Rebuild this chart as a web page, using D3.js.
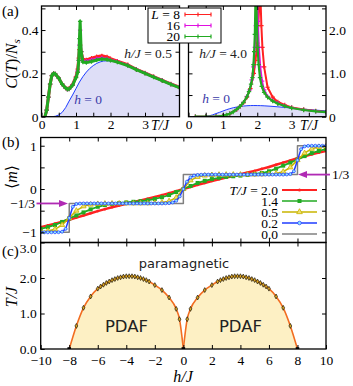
<!DOCTYPE html>
<html>
<head>
<meta charset="utf-8">
<script src="https://cdn.jsdelivr.net/npm/d3@7"></script>
<style>
body { margin: 0; background: #fff; }
svg { display: block; }
</style>
</head>
<body>
<div id="chart"></div>
<script>
// (a) specific heat, h/J = 0.5
var tA = [0.1,0.15,0.2,0.25,0.3,0.35,0.4,0.5,0.6,0.7,0.75,0.8,0.9,1.0,1.05,1.08,1.1,1.12,1.15,1.2,1.3,1.45,1.6,1.75,1.9,2.0,2.2,2.5,2.75,3.0,3.25,3.5,3.75,4.0]
var cA8 = [0,0.03,0.09,0.15,0.19,0.2,0.197,0.178,0.15,0.132,0.128,0.13,0.148,0.185,0.22,0.27,0.31,0.33,0.3,0.265,0.262,0.27,0.277,0.281,0.276,0.268,0.256,0.24,0.219,0.202,0.185,0.168,0.151,0.136]
var cA16 = [0,0.03,0.09,0.15,0.19,0.2,0.197,0.178,0.15,0.132,0.127,0.128,0.146,0.182,0.21,0.26,0.33,0.4,0.3,0.258,0.256,0.262,0.268,0.271,0.267,0.262,0.254,0.237,0.218,0.201,0.184,0.167,0.15,0.135]
var cA20 = [0,0.03,0.09,0.15,0.19,0.2,0.197,0.178,0.15,0.132,0.127,0.128,0.145,0.18,0.205,0.26,0.36,0.44,0.3,0.252,0.25,0.255,0.262,0.266,0.264,0.26,0.252,0.236,0.217,0.2,0.183,0.166,0.149,0.134]

// h = 0 reference curve
var t0 = [0.2,0.3,0.4,0.5,0.6,0.7,0.8,0.9,1.0,1.1,1.2,1.3,1.4,1.5,1.6,1.7,1.8,1.9,2.0,2.1,2.2,2.4,2.6,2.8,3.0,3.2,3.4,3.6,3.8,4.0]
var c0 = [0,0,0.002,0.008,0.02,0.042,0.072,0.1,0.13,0.16,0.185,0.206,0.223,0.236,0.246,0.253,0.257,0.258,0.257,0.255,0.251,0.241,0.228,0.214,0.2,0.186,0.172,0.159,0.146,0.134]

// (a) specific heat, h/J = 4.0
var tB8 = [0.2,0.5,0.8,1.0,1.2,1.4,1.5,1.6,1.7,1.8,1.9,1.95,2.0,2.03,2.06,2.08,2.1,2.12,2.15,2.2,2.3,2.45,2.6,2.8,3.0,3.35,3.7,4.0]
var cB8 = [0,0,0.005,0.02,0.07,0.165,0.235,0.32,0.45,0.65,1.0,1.3,1.7,2.1,2.6,2.8,2.6,2.1,1.6,1.15,0.68,0.45,0.34,0.27,0.215,0.165,0.13,0.108]
var tB16 = [0.2,0.5,0.8,1.0,1.2,1.4,1.5,1.6,1.7,1.78,1.84,1.89,1.93,1.96,1.98,2.0,2.02,2.05,2.09,2.14,2.2,2.3,2.45,2.6,2.8,3.0,3.35,3.7,4.0]
var cB16 = [0,0,0.005,0.02,0.07,0.17,0.24,0.33,0.47,0.62,0.85,1.15,1.6,2.1,2.8,2.8,2.2,1.6,1.15,0.82,0.62,0.47,0.37,0.31,0.25,0.205,0.158,0.127,0.106]
var tB20 = [0.2,0.5,0.8,1.0,1.1,1.2,1.3,1.4,1.5,1.6,1.7,1.76,1.82,1.86,1.89,1.91,1.93,1.95,1.97,1.99,2.01,2.04,2.08,2.13,2.2,2.3,2.45,2.6,2.8,3.0,3.35,3.7,4.0]
var cB20 = [0,0,0.005,0.02,0.04,0.07,0.11,0.17,0.24,0.33,0.46,0.58,0.75,0.9,1.2,1.5,1.9,2.8,2.8,2.1,1.6,1.2,0.9,0.7,0.56,0.45,0.36,0.3,0.245,0.2,0.155,0.125,0.105]

var sizes = ['8', '16', '20']

// (b) magnetization vs field
var hGrid = d3.range(-10, 10.001, 0.5)
var hFine = d3.range(-10, 10.001, 0.25)
var m20 = [-0.88,-0.84,-0.80,-0.755,-0.71,-0.66,-0.61,-0.56,-0.51,-0.465,-0.42,-0.38,-0.34,-0.30,-0.265,-0.225,-0.185,-0.14,-0.095,-0.048,0,
    0.048,0.095,0.14,0.185,0.225,0.265,0.30,0.34,0.38,0.42,0.465,0.51,0.56,0.61,0.66,0.71,0.755,0.80,0.84,0.88]
var m14 = [-0.92,-0.88,-0.83,-0.76,-0.68,-0.61,-0.54,-0.47,-0.41,-0.37,-0.345,-0.325,-0.31,-0.295,-0.28,-0.26,-0.23,-0.19,-0.14,-0.07,0,
    0.07,0.14,0.19,0.23,0.26,0.28,0.295,0.31,0.325,0.345,0.37,0.41,0.47,0.54,0.61,0.68,0.76,0.83,0.88,0.92]
var m05 = [-0.985,-0.97,-0.93,-0.83,-0.667,-0.5,-0.4,-0.36,-0.345,-0.338,-0.335,-0.334,-0.333,-0.333,-0.332,-0.33,-0.323,-0.31,-0.28,-0.2,0,
    0.2,0.28,0.31,0.323,0.33,0.332,0.333,0.333,0.334,0.335,0.338,0.345,0.36,0.4,0.5,0.667,0.83,0.93,0.97,0.985]
var m02 = [-1,-1,-1,-1,-0.999,-0.997,-0.985,-0.92,-0.667,-0.41,-0.345,-0.336,
    -0.333,-0.333,-0.333,-0.333,-0.333,-0.333,-0.333,-0.333,-0.333,-0.333,
    -0.333,-0.333,-0.333,-0.333,-0.333,-0.333,-0.333,-0.333,-0.333,-0.333,
    -0.333,-0.333,-0.333,-0.33,-0.325,-0.31,-0.27,-0.17,0,
    0.17,0.27,0.31,0.325,0.33,0.333,0.333,0.333,0.333,0.333,
    0.333,0.333,0.333,0.333,0.333,0.333,0.333,0.333,0.333,0.333,
    0.333,0.333,0.333,0.333,0.333,0.333,0.333,0.333,0.336,0.345,
    0.41,0.667,0.92,0.985,0.997,0.999,1,1,1,1]
var hStep = [-10,-8,-8,0,0,8,8,10]
var mStep = [-1,-1,-1/3,-1/3,1/3,1/3,1,1]
var temps = ['2.0', '1.4', '0.5', '0.2', '0.0']

// (c) phase boundary
var hDomeL = [-8,-7.5,-7.0,-6.5,-6.0,-5.8,-5.6,-5.4,-5.2,-5.0,-4.8,-4.6,-4.4,-4.2,-4.0,-3.8,-3.6,-3.4,-3.2,-3.0,-2.8,-2.6,-2.4,-2.0,-1.5,-1.0,-0.5,-0.27,0]
var tDomeL = [0,0.65,1.16,1.48,1.70,1.76,1.81,1.86,1.90,1.94,1.97,2.00,2.02,2.04,2.05,2.05,2.05,2.04,2.02,2.00,1.97,1.94,1.90,1.80,1.66,1.45,1.13,0.84,0]
var hDomeR = [0,0.27,0.5,1.0,1.5,2.0,2.4,2.6,2.8,3.0,3.2,3.4,3.6,3.8,4.0,4.2,4.4,4.6,4.8,5.0,5.2,5.4,5.6,5.8,6.0,6.5,7.0,7.5,8]
var tDomeR = [0,0.84,1.13,1.45,1.66,1.80,1.90,1.94,1.97,2.00,2.02,2.04,2.05,2.05,2.05,2.04,2.02,2.00,1.97,1.94,1.90,1.86,1.81,1.76,1.70,1.48,1.16,0.65,0]

var serif = '"Liberation Serif", "DejaVu Serif", serif'
var sans = '"DejaVu Sans", sans-serif'
var red = '#ff2222', magenta = '#e010e0', green = '#22aa22', yellow = '#c8b400', blue = '#1f3cff', gray = '#808080', purple = '#b02ab4'

var svg = d3.select('#chart')
    .append('svg')
    .attr('width', 353)
    .attr('height', 386)
    .attr('font-family', serif)

var xA1 = d3.scaleLinear().domain([0, 4]).range([41.5, 179.5])
var xA2 = d3.scaleLinear().domain([0, 4]).range([188.5, 326])
var yA1 = d3.scaleLinear().domain([0, 0.511]).range([116.7, 6])
var yA2 = d3.scaleLinear().domain([0, 2.555]).range([116.7, 6])
var xH = d3.scaleLinear().domain([-10, 10]).range([40.7, 326])
var yM = d3.scaleLinear().domain([-1.235, 1.19]).range([242.5, 137.5])
var yT = d3.scaleLinear().domain([0, 3]).range([349, 242.5])

var clipN = 0
function panel(x, y) {
    var id = 'clip' + (clipN++)
    svg.append('clipPath').attr('id', id)
        .append('rect')
        .attr('x', x.range()[0]).attr('y', y.range()[1])
        .attr('width', x.range()[1] - x.range()[0])
        .attr('height', y.range()[0] - y.range()[1])
    return svg.append('g').attr('clip-path', 'url(#' + id + ')')
}

function frame(x, y) {
    svg.append('rect')
        .attr('x', x.range()[0]).attr('y', y.range()[1])
        .attr('width', x.range()[1] - x.range()[0])
        .attr('height', y.range()[0] - y.range()[1])
        .attr('fill', 'none')
        .attr('stroke', '#000')
        .attr('stroke-width', 1.3)
}

function axis(a, tr) {
    var g = svg.append('g').attr('transform', tr).call(a)
    g.select('.domain').remove()
    g.attr('font-family', serif).attr('font-size', 13.5)
    g.selectAll('line').attr('stroke-width', 1)
    // drop empty tick labels
    g.selectAll('text').filter(function() { return this.textContent === '' }).remove()
    return g
}

function minus(v) { return v < 0 ? '\u2212' + (-v) : '' + v }

function curve(g, x, y, xs, ys, color, width, marks) {
    var pts = xs.map((d, i) => [x(d), y(ys[i])])
    g.append('path')
        .attr('d', d3.line()(pts))
        .attr('fill', 'none')
        .attr('stroke', color)
        .attr('stroke-width', width)
        .attr('stroke-linejoin', 'round')
    if (marks) {
        g.append('g').selectAll('path')
            .data(pts)
            .enter().append('path')
            .attr('transform', d => `translate(${d[0]},${d[1]})`)
            .attr('d', 'M-2.2,0H2.2M0,-2.2V2.2')
            .attr('stroke', color)
            .attr('stroke-width', 1.2)
    }
}

// ---------- panel (a) left ----------
var gA1 = panel(xA1, yA1)
gA1.append('path')
    .attr('d', d3.area().x((d, i) => xA1(t0[i])).y0(yA1(0)).y1(d => yA1(d))(c0))
    .attr('fill', '#dedef7')
curve(gA1, xA1, yA1, t0, c0, blue, 1, false)
curve(gA1, xA1, yA1, tA, cA8, red, 3, true)
curve(gA1, xA1, yA1, tA, cA16, magenta, 2.5, true)
curve(gA1, xA1, yA1, tA, cA20, green, 3, true)

axis(d3.axisBottom(xA1).tickValues(d3.range(0, 3.6, 0.5)).tickSize(-4).tickSizeOuter(0).tickPadding(3)
    .tickFormat(d => Number.isInteger(d) ? d : ''), 'translate(0,116.7)')
axis(d3.axisTop(xA1).tickValues(d3.range(0.5, 3.6, 0.5)).tickSize(-4).tickSizeOuter(0).tickFormat(''), 'translate(0,6)')
axis(d3.axisLeft(yA1).tickValues([0, 0.1, 0.2, 0.3, 0.4, 0.5]).tickSize(-4).tickSizeOuter(0).tickPadding(3)
    .tickFormat(d => d === 0 ? '0' : (Math.round(d * 10) % 2 === 0 && d < 0.45 ? d.toFixed(1) : '')), 'translate(41.5,0)')
axis(d3.axisRight(yA1).tickValues([0.1, 0.2, 0.3, 0.4, 0.5]).tickSize(-4).tickSizeOuter(0).tickFormat(''), 'translate(179.5,0)')
frame(xA1, yA1)

// ---------- panel (a) right ----------
var gA2 = panel(xA2, yA2)
gA2.append('path')
    .attr('d', d3.area().x((d, i) => xA2(t0[i])).y0(yA2(0)).y1(d => yA2(d))(c0))
    .attr('fill', '#dedef7')
curve(gA2, xA2, yA2, t0, c0, blue, 1, false)
curve(gA2, xA2, yA2, tB8, cB8, red, 2, true)
curve(gA2, xA2, yA2, tB16, cB16, magenta, 1.8, true)
curve(gA2, xA2, yA2, tB20, cB20, green, 2.2, true)

axis(d3.axisBottom(xA2).tickValues(d3.range(0, 3.6, 0.5)).tickSize(-4).tickSizeOuter(0).tickPadding(3)
    .tickFormat(d => Number.isInteger(d) ? d : ''), 'translate(0,116.7)')
axis(d3.axisTop(xA2).tickValues(d3.range(0.5, 3.6, 0.5)).tickSize(-4).tickSizeOuter(0).tickFormat(''), 'translate(0,6)')
axis(d3.axisLeft(yA2).tickValues([0.5, 1, 1.5, 2, 2.5]).tickSize(-4).tickSizeOuter(0).tickFormat(''), 'translate(188.5,0)')
axis(d3.axisRight(yA2).tickValues([0, 0.5, 1, 1.5, 2, 2.5]).tickSize(-4).tickSizeOuter(0).tickPadding(3)
    .tickFormat(d => d === 0 ? '0' : (Number.isInteger(d) ? d.toFixed(1) : '')), 'translate(326,0)')
frame(xA2, yA2)

// axis titles (a)
svg.append('text').attr('x', 151).attr('y', 130).attr('font-size', 14).attr('font-style', 'italic').text('T/J')
svg.append('text').attr('x', 300).attr('y', 130).attr('font-size', 14).attr('font-style', 'italic').text('T/J')

var ylab = svg.append('text')
    .attr('transform', 'translate(17,64) rotate(-90)')
    .attr('text-anchor', 'middle')
    .attr('font-size', 16)
ylab.append('tspan').attr('font-style', 'italic').text('C')
ylab.append('tspan').text('(')
ylab.append('tspan').attr('font-style', 'italic').text('T')
ylab.append('tspan').text(')/')
ylab.append('tspan').attr('font-style', 'italic').text('N')
ylab.append('tspan').attr('font-style', 'italic').attr('font-size', 11).attr('dy', 3).text('s')

function hLabel(x, y, val, color) {
    var t = svg.append('text').attr('x', x).attr('y', y).attr('font-size', 13.5).attr('text-anchor', 'end').attr('fill', color)
    t.append('tspan').attr('font-style', 'italic').text(val === null ? 'h' : 'h/J')
    t.append('tspan').text(val === null ? ' = 0' : ' = ' + val)
}
hLabel(172, 58, '0.5', '#222')
hLabel(247, 58, '4.0', '#222')
hLabel(102, 104, null, '#3a3aa8')
hLabel(230, 103, null, '#3a3aa8')

// legend (a)
svg.append('rect')
    .attr('x', 148).attr('y', 8).attr('width', 73).attr('height', 35)
    .attr('fill', '#fff').attr('stroke', '#000').attr('stroke-width', 1)
var legA = svg.append('g')
    .selectAll('g')
    .data(sizes)
    .enter().append('g')
    .attr('transform', (d, i) => `translate(0,${14.5 + i * 11})`)
legA.append('text')
    .attr('x', 180).attr('y', 4.5)
    .attr('text-anchor', 'end')
    .attr('font-size', 13.5)
    .each(function(d, i) {
        var t = d3.select(this)
        if (i === 0) {
            t.append('tspan').attr('font-style', 'italic').text('L')
            t.append('tspan').text(' = ' + d)
        } else {
            t.text(d)
        }
    })
var legColors = [red, magenta, green]
legA.append('path')
    .attr('d', 'M185,0H211M185,-2V2M211,-2V2M198,-2V2')
    .attr('stroke', (d, i) => legColors[i])
    .attr('stroke-width', 1.2)
    .attr('fill', 'none')

// ---------- panel (b) ----------
var gB = panel(xH, yM)
curve(gB, xH, yM, hStep, mStep, gray, 1.5, false)
gB.append('path')
    .attr('d', d3.line()(hGrid.map((d, i) => [xH(d), yM(m20[i])])))
    .attr('fill', 'none').attr('stroke', red).attr('stroke-width', 2.5)
gB.append('g').selectAll('circle')
    .data(hGrid)
    .enter().append('circle')
    .attr('cx', d => xH(d)).attr('cy', (d, i) => yM(m20[i]))
    .attr('r', 1.3).attr('fill', red)

gB.append('path')
    .attr('d', d3.line()(hGrid.map((d, i) => [xH(d), yM(m14[i])])))
    .attr('fill', 'none').attr('stroke', green).attr('stroke-width', 1.8)
gB.append('g').selectAll('rect')
    .data(hGrid)
    .enter().append('rect')
    .attr('x', d => xH(d) - 2).attr('y', (d, i) => yM(m14[i]) - 2)
    .attr('width', 4).attr('height', 4).attr('fill', green)

gB.append('path')
    .attr('d', d3.line()(hGrid.map((d, i) => [xH(d), yM(m05[i])])))
    .attr('fill', 'none').attr('stroke', yellow).attr('stroke-width', 1.5)
gB.append('g').selectAll('path')
    .data(hGrid)
    .enter().append('path')
    .attr('transform', (d, i) => `translate(${xH(d)},${yM(m05[i])})`)
    .attr('d', d3.symbol(d3.symbolTriangle, 12))
    .attr('fill', '#f0e070').attr('stroke', yellow).attr('stroke-width', 0.8)

gB.append('path')
    .attr('d', d3.line()(hFine.map((d, i) => [xH(d), yM(m02[i])])))
    .attr('fill', 'none').attr('stroke', blue).attr('stroke-width', 1.5)
gB.append('g').selectAll('circle')
    .data(hFine)
    .enter().append('circle')
    .attr('cx', d => xH(d)).attr('cy', (d, i) => yM(m02[i]))
    .attr('r', 1.5).attr('fill', '#8fe6ff').attr('stroke', blue).attr('stroke-width', 0.7)

axis(d3.axisTop(xH).tickValues(d3.range(-8, 8.1, 2)).tickSize(-4).tickSizeOuter(0).tickFormat(''), 'translate(0,137.5)')
axis(d3.axisBottom(xH).tickValues(d3.range(-8, 8.1, 2)).tickSize(-4).tickSizeOuter(0).tickFormat(''), 'translate(0,242.5)')
axis(d3.axisLeft(yM).tickValues([-1, -0.5, 0, 0.5, 1]).tickSize(-4).tickSizeOuter(0).tickPadding(4)
    .tickFormat(d => Number.isInteger(d) ? minus(d) : ''), 'translate(40.7,0)')
axis(d3.axisRight(yM).tickValues([-1, -0.5, 0, 0.5, 1]).tickSize(-4).tickSizeOuter(0).tickFormat(''), 'translate(326,0)')
frame(xH, yM)

svg.append('text').attr('x', 35).attr('y', yM(-1 / 3) + 4.5).attr('text-anchor', 'end').attr('font-size', 13.5).text('\u22121/3')
svg.append('text').attr('x', 332).attr('y', yM(1 / 3) + 4.5).attr('font-size', 13.5).text('1/3')

function arrow(x1, x2, y) {
    var dir = x2 > x1 ? 1 : -1
    svg.append('path')
        .attr('d', `M${x1},${y}H${x2 - dir * 7}`)
        .attr('stroke', purple).attr('stroke-width', 1.8)
    svg.append('path')
        .attr('d', `M${x2},${y}L${x2 - dir * 9},${y - 3.5}L${x2 - dir * 9},${y + 3.5}Z`)
        .attr('fill', purple)
}
arrow(36.5, 68, yM(-1 / 3))
arrow(330, 298, yM(1 / 3))

var mlab = svg.append('text')
    .attr('transform', 'translate(17,177) rotate(-90)')
    .attr('text-anchor', 'middle')
    .attr('font-size', 16)
mlab.append('tspan').text('\u27e8')
mlab.append('tspan').attr('font-style', 'italic').text('m')
mlab.append('tspan').text('\u27e9')

// legend (b)
var legColorsB = [red, green, yellow, blue, gray]
var legB = svg.append('g')
    .selectAll('g')
    .data(temps)
    .enter().append('g')
    .attr('transform', (d, i) => `translate(0,${190 + i * 11})`)
legB.append('text')
    .attr('x', 278).attr('y', 4.5)
    .attr('text-anchor', 'end')
    .attr('font-size', 13.5)
    .each(function(d, i) {
        var t = d3.select(this)
        if (i === 0) {
            t.append('tspan').attr('font-style', 'italic').text('T/J')
            t.append('tspan').text(' = ' + d)
        } else {
            t.text(d)
        }
    })
legB.append('line')
    .attr('x1', 282).attr('x2', 317)
    .attr('stroke', (d, i) => legColorsB[i])
    .attr('stroke-width', (d, i) => i === 0 ? 1.8 : 1.5)
legB.filter((d, i) => i === 0).append('circle').attr('cx', 299.5).attr('r', 1.5).attr('fill', red)
legB.filter((d, i) => i === 1).append('rect').attr('x', 297.5).attr('y', -2).attr('width', 4).attr('height', 4).attr('fill', green)
legB.filter((d, i) => i === 2).append('path').attr('transform', 'translate(299.5,0)')
    .attr('d', d3.symbol(d3.symbolTriangle, 14)).attr('fill', '#f0e070').attr('stroke', yellow).attr('stroke-width', 0.8)
legB.filter((d, i) => i === 3).append('circle').attr('cx', 299.5).attr('r', 1.8)
    .attr('fill', '#8fe6ff').attr('stroke', blue).attr('stroke-width', 0.7)

// ---------- panel (c) ----------
var gC = panel(xH, yT)
var domeArea = d3.area().curve(d3.curveMonotoneX).x(d => xH(d[0])).y0(yT(0)).y1(d => yT(d[1]))
var domeLine = d3.line().curve(d3.curveMonotoneX).x(d => xH(d[0])).y(d => yT(d[1]))
var domes = [hDomeL.map((d, i) => [d, tDomeL[i]]), hDomeR.map((d, i) => [d, tDomeR[i]])]
domes.forEach(pts => {
    gC.append('path').attr('d', domeArea(pts)).attr('fill', '#fdf0c4')
})
domes.forEach(pts => {
    gC.append('path').attr('d', domeLine(pts)).attr('fill', 'none').attr('stroke', '#f26d21').attr('stroke-width', 1.6)
    gC.append('g').selectAll('path')
        .data(pts.slice(1, -1))
        .enter().append('path')
        .attr('transform', d => `translate(${xH(d[0])},${yT(d[1])})`)
        .attr('d', d3.symbol(d3.symbolDiamond, 7))
        .attr('fill', '#d9a520').attr('stroke', '#000').attr('stroke-width', 0.6)
})
gC.append('g').selectAll('rect')
    .data([-8, 0, 8])
    .enter().append('rect')
    .attr('x', d => xH(d) - 1.8).attr('y', yT(0) - 1.8)
    .attr('width', 3.6).attr('height', 3.6).attr('fill', '#000')

axis(d3.axisBottom(xH).tickValues(d3.range(-10, 10.1, 2)).tickSize(-4).tickSizeOuter(0).tickPadding(6)
    .tickFormat(minus), 'translate(0,349)')
axis(d3.axisTop(xH).tickValues(d3.range(-8, 8.1, 2)).tickSize(-4).tickSizeOuter(0).tickFormat(''), 'translate(0,242.5)')
var yTAxis = axis(d3.axisLeft(yT).tickValues([0, 1, 2, 3]).tickSize(-4).tickSizeOuter(0).tickPadding(4), 'translate(40.7,0)')
// top label sits a little lower, clear of panel (b)
yTAxis.selectAll('text').filter(d => d === 3).attr('y', 6)
axis(d3.axisRight(yT).tickValues([1, 2]).tickSize(-4).tickSizeOuter(0).tickFormat(''), 'translate(326,0)')
frame(xH, yT)

svg.append('text').attr('x', 184).attr('y', 268).attr('text-anchor', 'middle')
    .attr('font-family', sans).attr('font-size', 13).attr('fill', '#222').text('paramagnetic')
svg.append('text').attr('x', 126.5).attr('y', 331.5).attr('text-anchor', 'middle')
    .attr('font-family', sans).attr('font-size', 16.5).attr('fill', '#222').text('PDAF')
svg.append('text').attr('x', 240.5).attr('y', 331.5).attr('text-anchor', 'middle')
    .attr('font-family', sans).attr('font-size', 16.5).attr('fill', '#222').text('PDAF')

svg.append('text').attr('x', 183).attr('y', 382).attr('text-anchor', 'middle')
    .attr('font-size', 16).attr('font-style', 'italic').text('h/J')
svg.append('text')
    .attr('transform', 'translate(17,297) rotate(-90)')
    .attr('text-anchor', 'middle')
    .attr('font-size', 16).attr('font-style', 'italic').text('T/J')

// panel tags
svg.append('text').attr('x', 2).attr('y', 16).attr('font-size', 15).text('(a)')
svg.append('text').attr('x', 2).attr('y', 147).attr('font-size', 15).text('(b)')
svg.append('text').attr('x', 2).attr('y', 256).attr('font-size', 15).text('(c)')
</script>
</body>
</html>
